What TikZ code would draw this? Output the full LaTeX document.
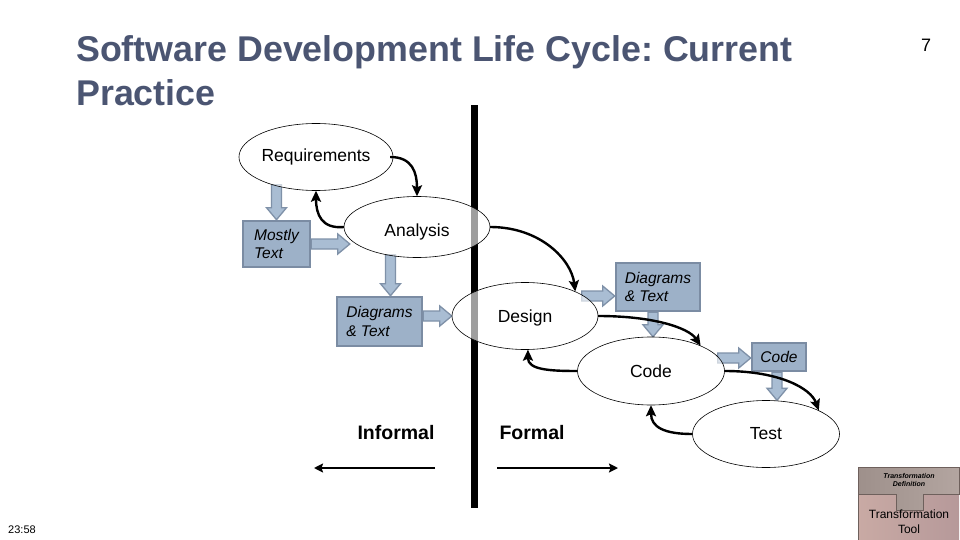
\documentclass[tikz,border=0pt]{standalone}
\usepackage{fontspec}
\setmainfont{Liberation Sans}
\usetikzlibrary{shapes.geometric,arrows.meta,calc}
\definecolor{titlecol}{HTML}{4B5572}
\definecolor{boxfill}{HTML}{9DB1C8}
\definecolor{boxline}{HTML}{7B8CA3}
\definecolor{bafill}{HTML}{A9BDD3}
\definecolor{baline}{HTML}{7F91A8}
\definecolor{icontopL}{HTML}{9E908B}
\definecolor{icontopR}{HTML}{B3A5A0}
\definecolor{iconbotL}{HTML}{C9AAA4}
\definecolor{iconbotR}{HTML}{B6999A}
\definecolor{iconline}{HTML}{6E605C}
\frenchspacing
\tikzset{
  phase/.style={ellipse, draw=black, line width=0.6pt, fill=white, fill opacity=0.62, text opacity=1, inner sep=0pt, font=\fontsize{17.5}{20}\selectfont},
  artefact/.style={rectangle, draw=boxline, line width=2.6pt, fill=boxfill, inner sep=0pt, align=left, font=\fontsize{15.5}{18.5}\itshape\selectfont},
  blockarrow/.style={draw=baline, fill=bafill, line width=1.3pt, line join=miter,
    to path={let \p1=(\tikztostart), \p2=(\tikztotarget), \p3=($(\p2)!12pt!(\p1)$) in
      ($(\p1)!5pt!90:(\p2)$) -- ($(\p3)!5pt!-90:(\p1)$) -- ($(\p3)!10pt!-90:(\p1)$) -- (\p2) -- ($(\p3)!10pt!90:(\p1)$) -- ($(\p3)!5pt!90:(\p1)$) -- ($(\p1)!5pt!-90:(\p2)$) -- cycle}},
  flow/.style={line width=2.4pt, -{Stealth[length=11pt,width=10pt,inset=2pt]}},
  sidearrow/.style={line width=2.6pt, -{Stealth[length=9pt,width=9pt,inset=1.5pt]}},
  sidelabel/.style={font=\fontsize{19.5}{22}\bfseries\selectfont, inner sep=0pt},
}
\begin{document}
\begin{tikzpicture}[x=1pt,y=-1pt]
\useasboundingbox (0,0) rectangle (960,540);
\fill[white] (0,0) rectangle (960,540);

% title
\node[anchor=base west, inner sep=0pt, text=titlecol, font=\fontsize{35.8}{44}\bfseries\selectfont] (title1) at (76,62) {Software Development Life Cycle: Current};
\node[anchor=base west, inner sep=0pt, text=titlecol, font=\fontsize{35.8}{44}\bfseries\selectfont] (title2) at (76,106) {Practice};
\node[inner sep=0pt, font=\fontsize{18}{20}\selectfont] (pagenum) at (926,45) {7};
\node[inner sep=0pt, font=\fontsize{11}{13}\selectfont] (clock) at (22,530) {23:58};

% divider bar
\fill[black] (471,105) rectangle (478,508);

% artefact boxes
\node[artefact, minimum width=67pt, minimum height=46pt] (mt) at (276.5,244) {Mostly\\Text};
\node[artefact, minimum width=85pt, minimum height=49pt] (dt1) at (379.5,321.5) {Diagrams\\\& Text};
\node[artefact, minimum width=84pt, minimum height=48pt] (dt2) at (658,287) {Diagrams\\\& Text};
\node[artefact, minimum width=54pt, minimum height=28pt] (cb) at (779,357) {Code};

% phase ellipse outlines (for anchors)
\path (316,157) coordinate (reqc) (417,227) coordinate (anac) (525,316) coordinate (desc) (651,371) coordinate (codc) (766,434) coordinate (tstc);
\node[ellipse, minimum width=148pt, minimum height=67pt, inner sep=0pt] (req) at (reqc) {};
\node[ellipse, minimum width=146pt, minimum height=61pt, inner sep=0pt] (ana) at (anac) {};
\node[ellipse, minimum width=146pt, minimum height=67pt, inner sep=0pt] (des) at (desc) {};
\node[ellipse, minimum width=147pt, minimum height=68pt, inner sep=0pt] (cod) at (codc) {};
\node[ellipse, minimum width=147pt, minimum height=67pt, inner sep=0pt] (tst) at (tstc) {};

% block arrows
\draw[blockarrow] ($(req.south -| mt.north)+(0,-6)$) to (mt.north);
\draw[blockarrow] (mt.east) to ($(mt.east -| ana.west)+(6,0)$);
\draw[blockarrow] ($(dt1.north)+(11,-41)$) to ($(dt1.north)+(11,0)$);
\draw[blockarrow] (dt1.east |- des.west) to (des.west);
\draw[blockarrow] ($(dt2.west)+(-33,9)$) to ($(dt2.west)+(0,9)$);
\draw[blockarrow] ($(dt2.south)+(-5,0)$) to ($(cod.north)+(2,0)$);
\draw[blockarrow] ($(cb.west -| cod.east)+(-7,1)$) to ($(cb.west)+(0,1)$);
\draw[blockarrow] ($(cb.south)+(-2,0)$) to ($(cb.south |- tst.north)+(-2,0)$);

% phase ellipses (semi-transparent)
\node[phase, minimum width=148pt, minimum height=67pt] (reqv) at (reqc) {Requirements};
\node[phase, minimum width=146pt, minimum height=61pt] (anav) at (anac) {\raisebox{-5pt}[\height][\depth]{Analysis}};
\node[phase, minimum width=146pt, minimum height=67pt] (desv) at (desc) {\raisebox{-2pt}[\height][\depth]{Design}};
\node[phase, minimum width=147pt, minimum height=68pt] (codv) at (codc) {Code};
\node[phase, minimum width=147pt, minimum height=67pt] (tstv) at (tstc) {Test};

% artefact box on top of ellipse edge
\node[artefact, minimum width=67pt, minimum height=46pt] at (mt) {Mostly\\Text};

% flow arrows
\draw[flow] (req.east) .. controls +(22,0) and +(0,-24) .. (ana.north);
\draw[flow] (ana.west) .. controls +(-22,2) and +(0,24) .. (req.south);
\draw[flow] (ana.east) .. controls +(50,0) and +(-4,-32) .. (des.26);
\draw[flow] (des.east) .. controls +(55,0) and +(-12,-18) .. (cod.27);
\draw[flow] (cod.west) .. controls +(-28,0) and +(0,20) .. (des.-85);
\draw[flow] (cod.east) .. controls +(55,0) and +(-8,-22) .. (tst.24);
\draw[flow] (tst.west) .. controls +(-28,0) and +(0,22) .. (cod.south);

% informal / formal
\node[sidelabel] (inf) at (396,433) {Informal};
\node[sidelabel] (frm) at (532,433) {Formal};
\coordinate (infR) at (435,468);
\coordinate (infL) at (314,468);
\coordinate (frmL) at (497,468);
\coordinate (frmR) at (618,468);
\draw[sidearrow] (infR) -- (infL);
\draw[sidearrow] (frmL) -- (frmR);

% transformation tool icon
\shade[left color=iconbotL, right color=iconbotR] (858,467) rectangle (959,540);
\shade[left color=icontopL, right color=icontopR, draw=iconline, line width=0.5pt]
  (858,467) -- (959,467) -- (959,494) -- (923,494) -- (923,510) -- (896,510) -- (896,494) -- (858,494) -- cycle;
\draw[iconline, line width=0.4pt] (858,540) -- (858,467) -- (959,467);
\node[inner sep=0pt, align=center, font=\fontsize{7}{8}\bfseries\itshape\selectfont] (tdef) at (909,480) {Transformation\\Definition};
\node[inner sep=0pt, align=center, font=\fontsize{12}{15}\selectfont] (ttool) at (909,522) {Transformation\\Tool};
\end{tikzpicture}
\end{document}
